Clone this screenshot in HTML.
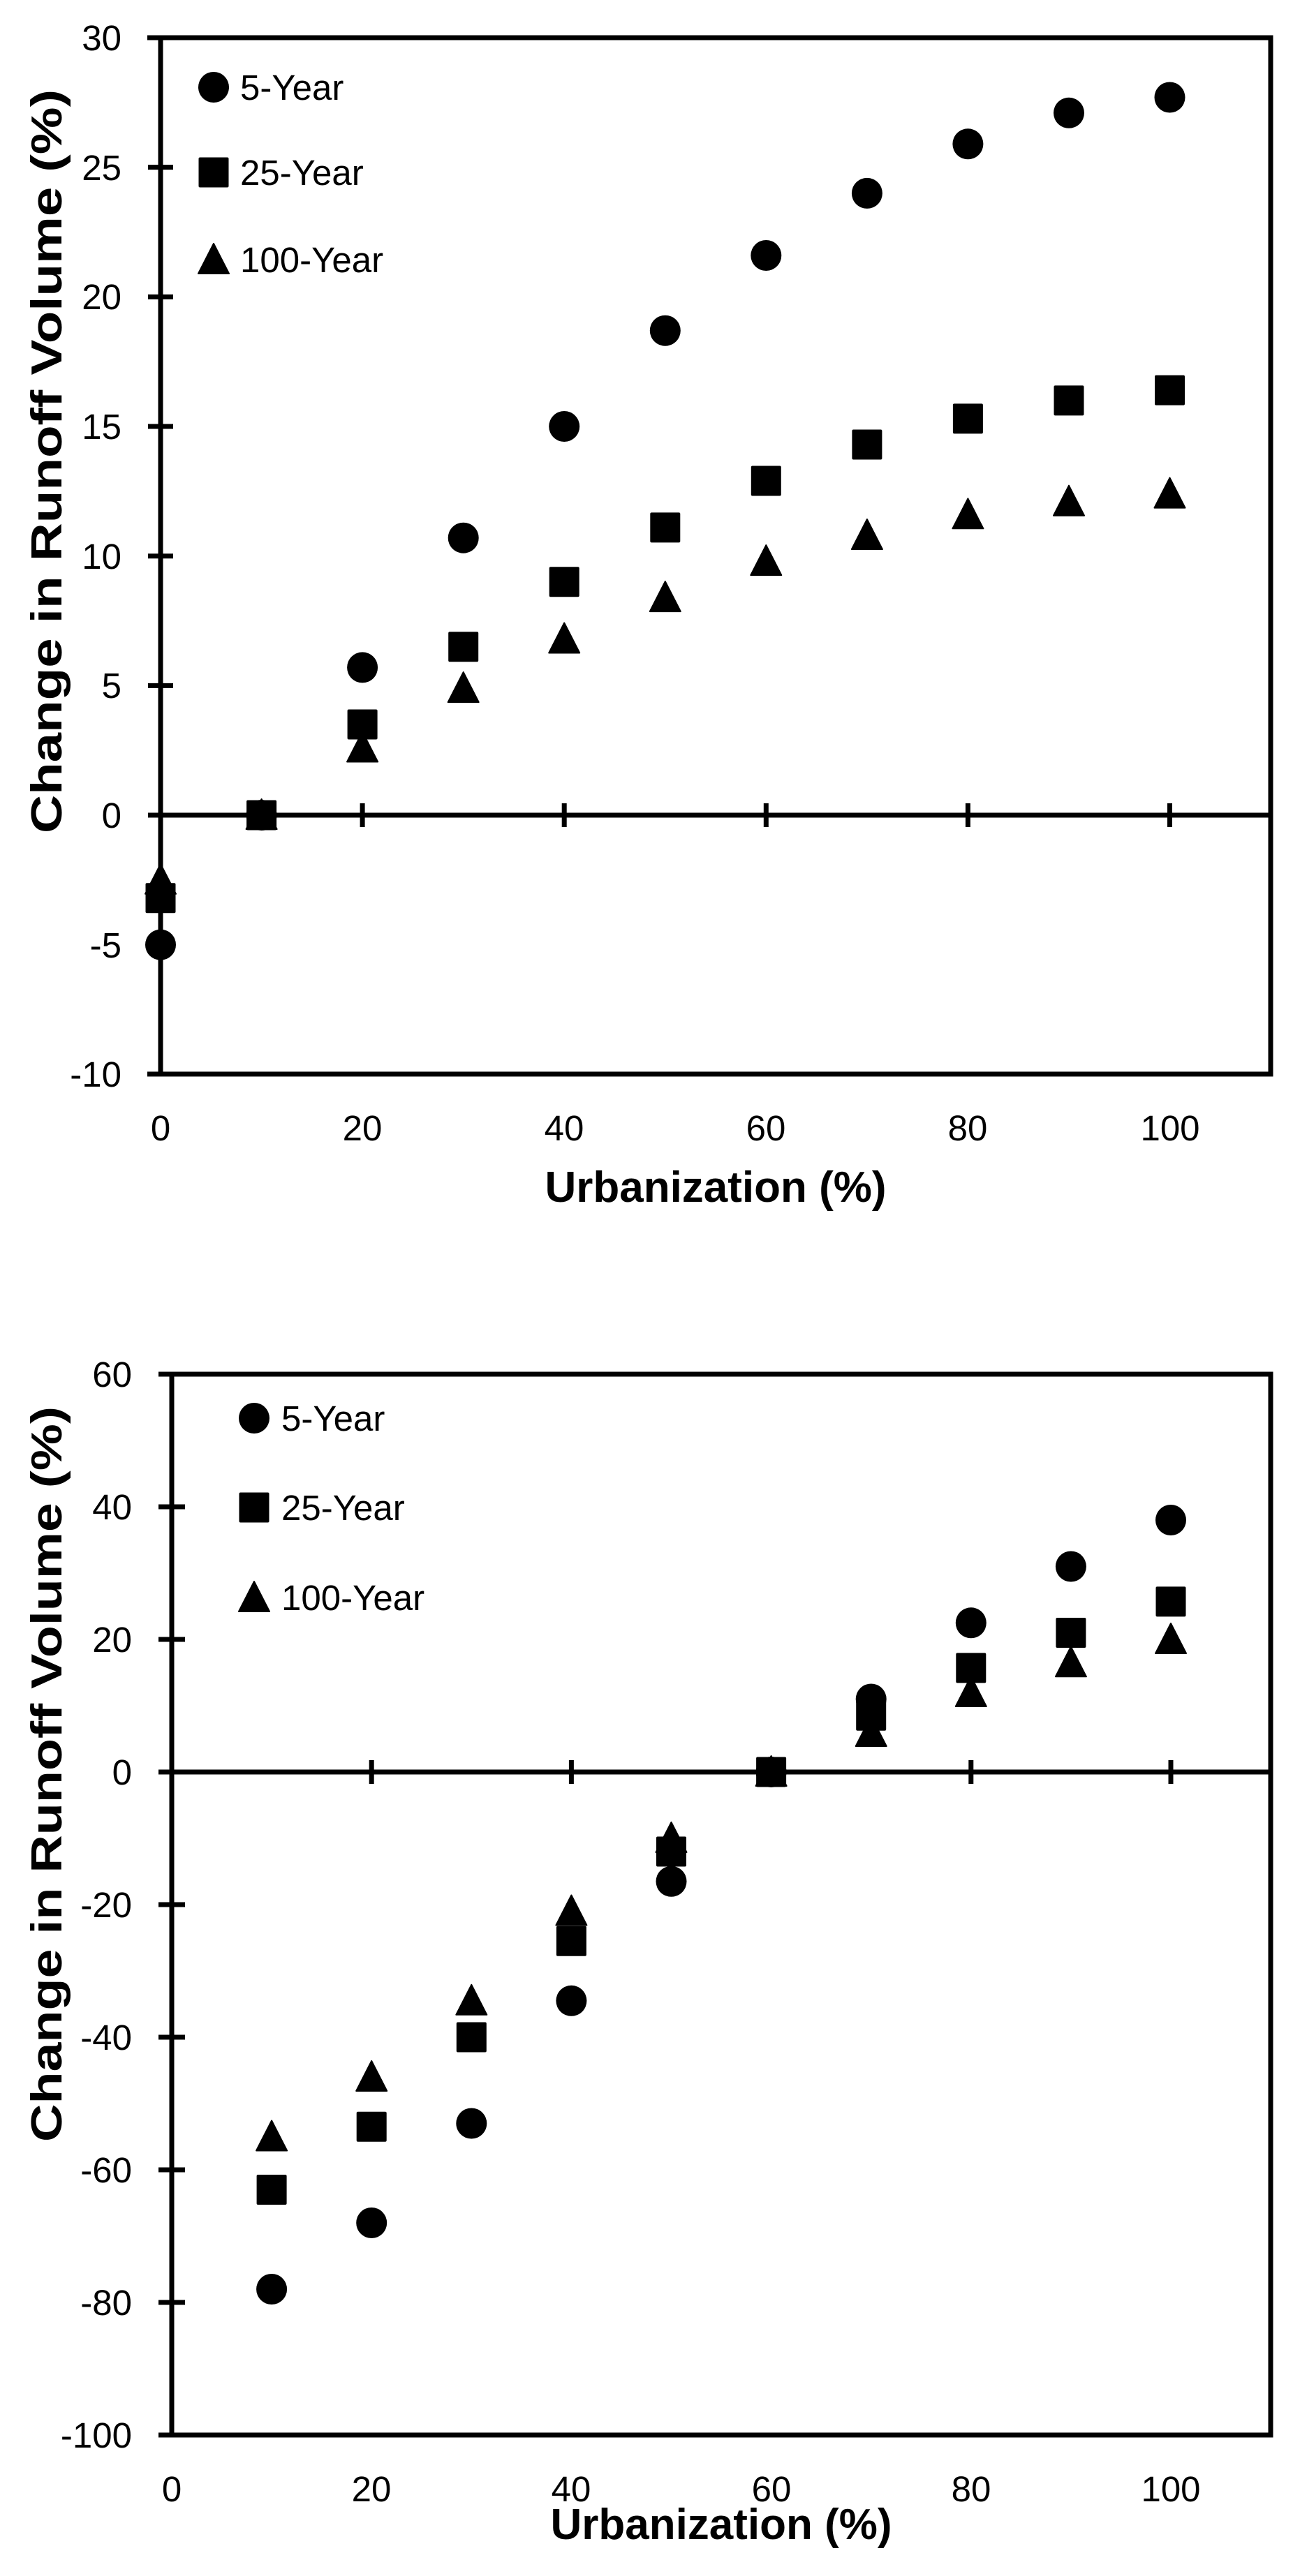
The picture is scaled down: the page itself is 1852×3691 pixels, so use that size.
<!DOCTYPE html>
<html><head><meta charset="utf-8"><style>
html,body{margin:0;padding:0;background:#fff;}
svg{display:block;}
text{font-family:"Liberation Sans",sans-serif;fill:#000;}
.t{font-size:51px;}
.ti{font-size:62px;font-weight:bold;}
</style></head><body>
<svg width="1852" height="3691" viewBox="0 0 1852 3691" xmlns="http://www.w3.org/2000/svg">
<defs>
<circle id="c" r="22" fill="#000"/>
<rect id="s" x="-21.5" y="-21.5" width="43" height="43" rx="2" fill="#000"/>
<path id="tr" d="M0,-23 L22,20 L-22,20 Z" fill="#000" stroke="#000" stroke-width="2" stroke-linejoin="round"/>
</defs>
<g stroke="#000" stroke-width="7" fill="none">
<path d="M211,54 H1820 V1539 H211 M230,54 V1539 M230,1168 H1820"/>
<path d="M212,239.6h36 M212,425.4h36 M212,611h36 M212,796.7h36 M212,982.4h36 M212,1168h36 M212,1353.7h36"/>
<path d="M519.1,1151v34 M808.2,1151v34 M1097.3,1151v34 M1386.4,1151v34 M1675.5,1151v34"/>
<path d="M227,1969 H1820 V3489 H227 M246,1969 V3489 M246,2539 H1820"/>
<path d="M227,2159h38 M227,2349h38 M227,2539h38 M227,2729h38 M227,2919h38 M227,3109h38 M227,3299h38"/>
<path d="M532.2,2522v34 M818.4,2522v34 M1104.6,2522v34 M1390.8,2522v34 M1677,2522v34"/>
</g>
<g class="t" text-anchor="end">
<text x="174" y="72">30</text><text x="174" y="258">25</text><text x="174" y="443">20</text>
<text x="174" y="629">15</text><text x="174" y="815">10</text><text x="174" y="1000">5</text>
<text x="174" y="1186">0</text><text x="174" y="1372">-5</text><text x="174" y="1557">-10</text>
</g>
<g class="t" text-anchor="middle">
<text x="230" y="1634">0</text><text x="519" y="1634">20</text><text x="808" y="1634">40</text>
<text x="1097" y="1634">60</text><text x="1386" y="1634">80</text><text x="1676" y="1634">100</text>
</g>
<text class="ti" x="1025" y="1722" text-anchor="middle">Urbanization (%)</text>
<text class="ti" transform="translate(88,661) rotate(-90)" text-anchor="middle" textLength="1066" lengthAdjust="spacingAndGlyphs">Change in Runoff Volume (%)</text>
<use href="#c" x="306" y="125"/><text class="t" x="344" y="143">5-Year</text>
<use href="#s" x="306" y="247"/><text class="t" x="344" y="265">25-Year</text>
<use href="#tr" x="306" y="372"/><text class="t" x="344" y="390">100-Year</text>
<g>
<use href="#tr" x="230" y="1260.8"/><use href="#tr" x="374.6" y="1168"/><use href="#tr" x="519.1" y="1071.5"/><use href="#tr" x="663.7" y="986.1"/><use href="#tr" x="808.2" y="915.5"/><use href="#tr" x="952.8" y="856.1"/><use href="#tr" x="1097.3" y="804.1"/><use href="#tr" x="1241.9" y="767"/><use href="#tr" x="1386.4" y="737.3"/><use href="#tr" x="1531" y="718.7"/><use href="#tr" x="1675.5" y="707.6"/>
<use href="#s" x="230" y="1286.8"/><use href="#s" x="374.6" y="1168"/><use href="#s" x="519.1" y="1038"/><use href="#s" x="663.7" y="926.7"/><use href="#s" x="808.2" y="833.8"/><use href="#s" x="952.8" y="755.9"/><use href="#s" x="1097.3" y="689"/><use href="#s" x="1241.9" y="637"/><use href="#s" x="1386.4" y="599.9"/><use href="#s" x="1531" y="573.9"/><use href="#s" x="1675.5" y="559.1"/>
<use href="#c" x="230" y="1353.7"/><use href="#c" x="374.6" y="1168"/><use href="#c" x="519.1" y="956.4"/><use href="#c" x="663.7" y="770.7"/><use href="#c" x="808.2" y="611"/><use href="#c" x="952.8" y="473.7"/><use href="#c" x="1097.3" y="366"/><use href="#c" x="1241.9" y="276.9"/><use href="#c" x="1386.4" y="206.3"/><use href="#c" x="1531" y="161.8"/><use href="#c" x="1675.5" y="139.5"/>
</g>
<g class="t" text-anchor="end">
<text x="189" y="1987">60</text><text x="189" y="2177">40</text><text x="189" y="2367">20</text>
<text x="189" y="2557">0</text><text x="189" y="2747">-20</text><text x="189" y="2937">-40</text>
<text x="189" y="3127">-60</text><text x="189" y="3317">-80</text><text x="189" y="3507">-100</text>
</g>
<g class="t" text-anchor="middle">
<text x="246" y="3584">0</text><text x="532" y="3584">20</text><text x="818" y="3584">40</text>
<text x="1105" y="3584">60</text><text x="1391" y="3584">80</text><text x="1677" y="3584">100</text>
</g>
<text class="ti" x="1033" y="3638" text-anchor="middle">Urbanization (%)</text>
<text class="ti" transform="translate(88,2542) rotate(-90)" text-anchor="middle" textLength="1054" lengthAdjust="spacingAndGlyphs">Change in Runoff Volume (%)</text>
<use href="#c" x="364" y="2032"/><text class="t" x="403" y="2050">5-Year</text>
<use href="#s" x="364" y="2160"/><text class="t" x="403" y="2178">25-Year</text>
<use href="#tr" x="364" y="2289"/><text class="t" x="403" y="2307">100-Year</text>
<g>
<use href="#c" x="389.1" y="3280"/><use href="#c" x="532.2" y="3185"/><use href="#c" x="675.3" y="3042.5"/><use href="#c" x="818.4" y="2866.8"/><use href="#c" x="961.5" y="2695.8"/><use href="#c" x="1104.6" y="2539"/><use href="#c" x="1247.7" y="2434.5"/><use href="#c" x="1390.8" y="2325.3"/><use href="#c" x="1533.9" y="2244.5"/><use href="#c" x="1677" y="2178"/>
<use href="#tr" x="389.1" y="3061.5"/><use href="#tr" x="532.2" y="2976"/><use href="#tr" x="675.3" y="2866.8"/><use href="#tr" x="818.4" y="2738.5"/><use href="#tr" x="961.5" y="2634"/><use href="#tr" x="1104.6" y="2539"/><use href="#tr" x="1247.7" y="2482"/><use href="#tr" x="1390.8" y="2425"/><use href="#tr" x="1533.9" y="2382.3"/><use href="#tr" x="1677" y="2349"/>
<use href="#s" x="389.1" y="3137.5"/><use href="#s" x="532.2" y="3047.3"/><use href="#s" x="675.3" y="2919"/><use href="#s" x="818.4" y="2781.3"/><use href="#s" x="961.5" y="2653"/><use href="#s" x="1104.6" y="2539"/><use href="#s" x="1247.7" y="2458.3"/><use href="#s" x="1390.8" y="2389.9"/><use href="#s" x="1533.9" y="2339.5"/><use href="#s" x="1677" y="2294.9"/>
</g>
</svg>
</body></html>
